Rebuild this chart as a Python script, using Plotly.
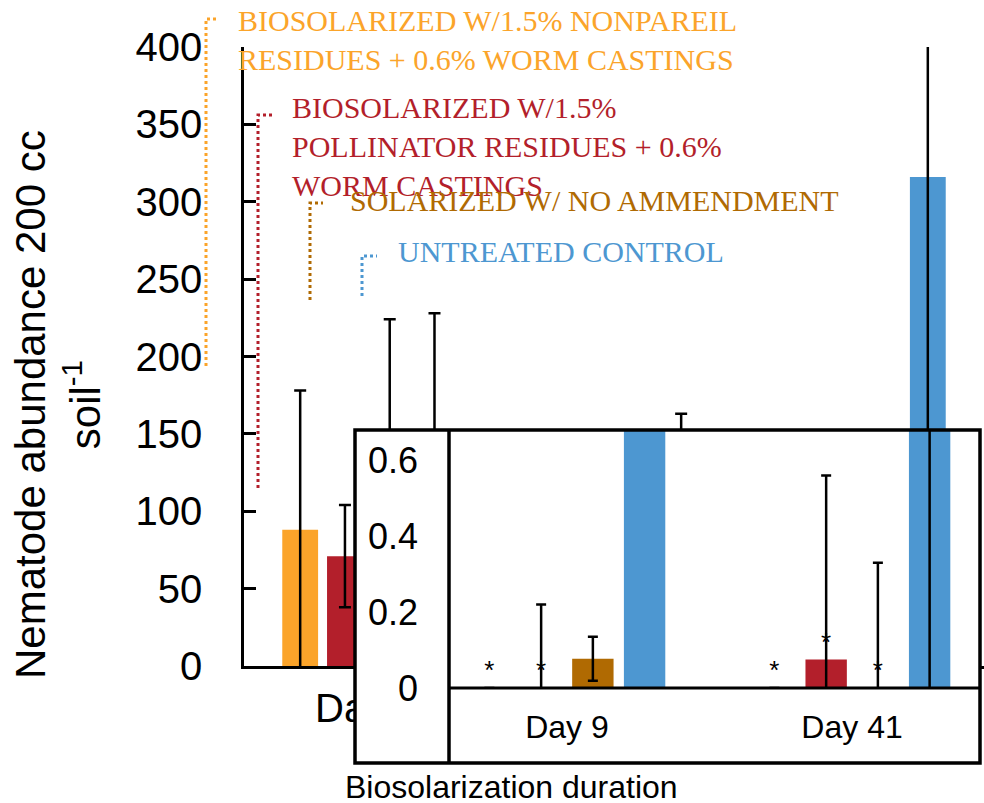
import plotly.graph_objects as go

# ---------------- data ----------------
days = ["Day 0", "Day 9", "Day 41"]
inset_days = days[1:]

nonpareil = [88, 0, 0]
nonpareil_err = [90, 0, 0]
pollinator = [71, 0, 0.075]
pollinator_err = [33, 0.22, 0.485]
solarized = [85, 0.077, 0]
solarized_err = [139, 0.058, 0.33]
control = [95, 130, 316]
control_err = [133, 33, 320]

nonpareil_marks = ["", "*", "*"]
pollinator_marks = ["", "*", "*"]
solarized_marks = ["", "", "*"]
control_marks = ["", "", ""]

series_names = [
    "BIOSOLARIZED W/1.5% NONPAREIL<br>RESIDUES + 0.6% WORM CASTINGS",
    "BIOSOLARIZED W/1.5%<br>POLLINATOR RESIDUES + 0.6%<br>WORM CASTINGS",
    "SOLARIZED W/ NO AMMENDMENT",
    "UNTREATED CONTROL",
]
series_vals = [nonpareil, pollinator, solarized, control]
series_errs = [nonpareil_err, pollinator_err, solarized_err, control_err]
series_marks = [nonpareil_marks, pollinator_marks, solarized_marks, control_marks]
colors = ["#FBA42A", "#B31F2B", "#B06A02", "#4D97D1"]

main_yticks = [0, 50, 100, 150, 200, 250, 300, 350, 400]
inset_yticks = [0, 0.2, 0.4, 0.6]

# ---------------- geometry helpers ----------------
W, H = 984, 803
fx = lambda px: px / W
fy = lambda py: 1 - py / H

fig = go.Figure()

for name, vals, errs, marks, col in zip(series_names, series_vals, series_errs, series_marks, colors):
    fig.add_trace(go.Bar(
        x=days, y=vals, name=name, marker=dict(color=col, line=dict(width=0)),
        error_y=dict(type="data", array=errs, visible=True, color="black", thickness=2.5, width=6),
        xaxis="x", yaxis="y", showlegend=False,
    ))

# cover layer (empty subplot used as the inset's opaque background)
fig.add_trace(go.Scatter(x=[None], y=[None], xaxis="x2", yaxis="y2", showlegend=False, hoverinfo="skip"))

for name, vals, errs, marks, col in zip(series_names, series_vals, series_errs, series_marks, colors):
    fig.add_trace(go.Bar(
        x=inset_days, y=vals[1:], name=name, marker=dict(color=col, line=dict(width=0)),
        error_y=dict(type="data", array=errs[1:], visible=True, color="black", thickness=2.5, width=5),
        text=marks[1:], textposition="outside",
        textfont=dict(family="Liberation Sans", size=26, color="black"),
        xaxis="x3", yaxis="y3", showlegend=False,
    ))

sans = "Liberation Sans"
serif = "Liberation Serif"

fig.update_layout(
    template="none",
    width=W, height=H,
    margin=dict(l=0, r=0, t=0, b=0, pad=0),
    paper_bgcolor="white", plot_bgcolor="white",
    barmode="group", bargap=0.274, bargroupgap=0.2,
    showlegend=False,
    xaxis=dict(domain=[fx(244), 1], range=[-0.5, 2.5], showline=True, linecolor="black", linewidth=2.5,
               ticks="", showgrid=False, zeroline=False, automargin=False,
               tickfont=dict(family=sans, size=40, color="black"), ticklabelstandoff=5),
    yaxis=dict(domain=[fy(666), fy(47)], range=[0, 400], tickvals=main_yticks, showline=True,
               linecolor="black", linewidth=2.5, ticks="inside", ticklen=12, tickwidth=2.5, tickcolor="black",
               showgrid=False, zeroline=False, automargin=False,
               tickfont=dict(family=sans, size=40, color="black"), ticklabelstandoff=31),
    xaxis2=dict(domain=[fx(355), fx(980)], anchor="y2", visible=False, range=[0, 1], automargin=False),
    yaxis2=dict(domain=[fy(763), fy(430)], anchor="x2", visible=False, range=[0, 1], automargin=False),
    xaxis3=dict(domain=[fx(449), fx(980)], anchor="y3", range=[-0.414, 1.449], showline=False, ticks="",
                showgrid=False, zeroline=False, automargin=False,
                tickfont=dict(family=sans, size=32, color="black"), ticklabelstandoff=17),
    yaxis3=dict(domain=[fy(688), fy(430)], anchor="x3", range=[0, 0.68], tickvals=inset_yticks,
                ticktext=["0", "0.2", "0.4", "0.6"], showline=False, ticks="", showgrid=False, zeroline=False,
                automargin=False, tickfont=dict(family=sans, size=36, color="black"), ticklabelstandoff=30),
)

# inset frame lines
line_k = dict(color="black", width=3.5)
shapes = [
    dict(type="rect", xref="paper", yref="paper", x0=fx(355), x1=fx(980), y0=fy(763), y1=fy(430), line=line_k, layer="above"),
    dict(type="line", xref="paper", yref="paper", x0=fx(449), x1=fx(449), y0=fy(763), y1=fy(430), line=line_k, layer="above"),
    dict(type="line", xref="paper", yref="paper", x0=fx(449), x1=fx(980), y0=fy(688), y1=fy(688), line=dict(color="black", width=3), layer="above"),
]

# label leader lines (dotted elbows) and labels
leaders = [  # (x vertical, y bottom, y top, x end, text x, text y center)
    (206, 366, 19, 219, 236, 40),
    (258, 488, 115, 272, 290, 146),
    (310, 300, 203, 323, 348, 200),
    (362, 296, 256, 377, 396, 252),
]
annotations = []
for (xv, yb, yt, xe, tx, ty), name, col in zip(leaders, series_names, colors):
    path = f"M {fx(xv)},{fy(yb)} L {fx(xv)},{fy(yt)} L {fx(xe)},{fy(yt)}"
    shapes.append(dict(type="path", xref="paper", yref="paper", path=path,
                       line=dict(color=col, width=3, dash="dot"), layer="above"))
    annotations.append(dict(text=name, x=fx(tx), y=fy(ty), xref="paper", yref="paper",
                            xanchor="left", yanchor="middle", align="left", showarrow=False,
                            font=dict(family=serif, size=30, color=col)))

annotations.append(dict(text="Nematode abundance 200 cc<br>soil<sup>-1</sup>", x=fx(58), y=fy(405),
                        xref="paper", yref="paper", textangle=-90, showarrow=False,
                        xanchor="center", yanchor="middle", font=dict(family=sans, size=42, color="black")))
annotations.append(dict(text="Biosolarization duration", x=fx(511), y=fy(787), xref="paper", yref="paper",
                        showarrow=False, xanchor="center", yanchor="middle",
                        font=dict(family=sans, size=32, color="black")))

fig.update_layout(shapes=shapes, annotations=annotations)
fig.write_html("out.html", config={"displayModeBar": False},
               post_script="document.body.style.margin='0px';")
